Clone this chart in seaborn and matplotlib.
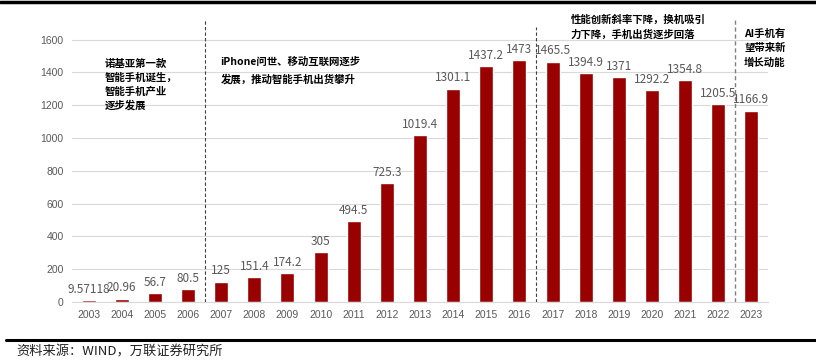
import numpy as np
import pandas as pd
import matplotlib
matplotlib.use('Agg')
import matplotlib.pyplot as plt
import seaborn as sns
from matplotlib.lines import Line2D

# data
years = [str(y) for y in range(2003, 2024)]
shipments = [9.57118, 20.96, 56.7, 80.5, 125, 151.4, 174.2, 305, 494.5, 725.3,
             1019.4, 1301.1, 1437.2, 1473, 1465.5, 1394.9, 1371, 1292.2, 1354.8,
             1205.5, 1166.9]
value_labels = ['9.57118', '20.96', '56.7', '80.5', '125', '151.4', '174.2', '305',
                '494.5', '725.3', '1019.4', '1301.1', '1437.2', '1473', '1465.5',
                '1394.9', '1371', '1292.2', '1354.8', '1205.5', '1166.9']
phase_notes = ['诺基亚第一款\n智能手机诞生，\n智能手机产业\n逐步发展',
               'iPhone问世、移动互联网逐步\n发展，推动智能手机出货攀升',
               '性能创新斜率下降，换机吸引\n力下降，手机出货逐步回落',
               'AI手机有\n望带来新\n增长动能']
source_text = '资料来源：WIND，万联证券研究所'

df = pd.DataFrame({'year': years, 'shipments': shipments})

sns.set_theme(style='white')
plt.rcParams['font.family'] = ['Noto Sans CJK SC', 'DejaVu Sans']

fig = plt.figure(figsize=(8.16, 3.62), dpi=100)
ax = fig.add_axes([72 / 816, 1 - 302 / 362, 696 / 816, 287 / 362])

sns.barplot(data=df, x='year', y='shipments', color='#990000', width=0.42,
            saturation=1, ax=ax)

ax.set_xlim(-0.5, 20.5)
ax.set_ylim(0, 1750)
ax.set_yticks(range(0, 1601, 200))
ax.yaxis.grid(True, color='#d9d9d9', linewidth=0.8)
ax.set_axisbelow(True)
for s in ['top', 'right', 'left']:
    ax.spines[s].set_visible(False)
ax.spines['bottom'].set_color('#d9d9d9')
ax.spines['bottom'].set_linewidth(0.8)
ax.tick_params(axis='both', length=0, labelsize=7.5, labelcolor='#595959', pad=6)
for lab in ax.get_xticklabels() + ax.get_yticklabels():
    lab.set_family('Liberation Sans')
ax.set_xlabel('')
ax.set_ylabel('')

# value labels
for i, (v, t) in enumerate(zip(shipments, value_labels)):
    ax.annotate(t, (i, v), xytext=(0, 3), textcoords='offset points',
                ha='center', va='bottom', fontsize=8.5, color='#595959')

# phase separators
ax.vlines(3.5, 0, 1720, colors='#404040', linestyles=(0, (3, 2)), linewidth=0.8)
ax.vlines(13.5, 0, 1675, colors='#404040', linestyles=(0, (3, 2)), linewidth=0.8)
ax.vlines(19.5, 0, 1720, colors='#808080', linestyles=(0, (3, 2)), linewidth=1.0)

# phase notes
ax.text(0.48, 1324, phase_notes[0], fontsize=7.5, fontweight='bold', va='center',
        ha='left', linespacing=1.45, color='black')
ax.text(3.98, 1410, phase_notes[1], fontsize=7.5, fontweight='bold', va='center',
        ha='left', linespacing=1.9, color='black')
ax.text(14.55, 1675, phase_notes[2], fontsize=7.5, fontweight='bold', va='center',
        ha='left', linespacing=1.5, color='black')
ax.text(19.78, 1549, phase_notes[3], fontsize=7.5, fontweight='bold', va='center',
        ha='left', linespacing=1.5, color='black')

# frame lines
fig.add_artist(Line2D([0, 1], [1 - 1.5 / 362, 1 - 1.5 / 362], color='black', linewidth=2.5))
fig.add_artist(Line2D([6 / 816, 1], [1 - 340 / 362, 1 - 340 / 362], color='black', linewidth=2.2))
fig.text(16 / 816, 1 - 352 / 362, source_text, fontsize=9.5, va='center', ha='left',
         color='#222222', style='italic')

fig.savefig('out.png', dpi=100)
